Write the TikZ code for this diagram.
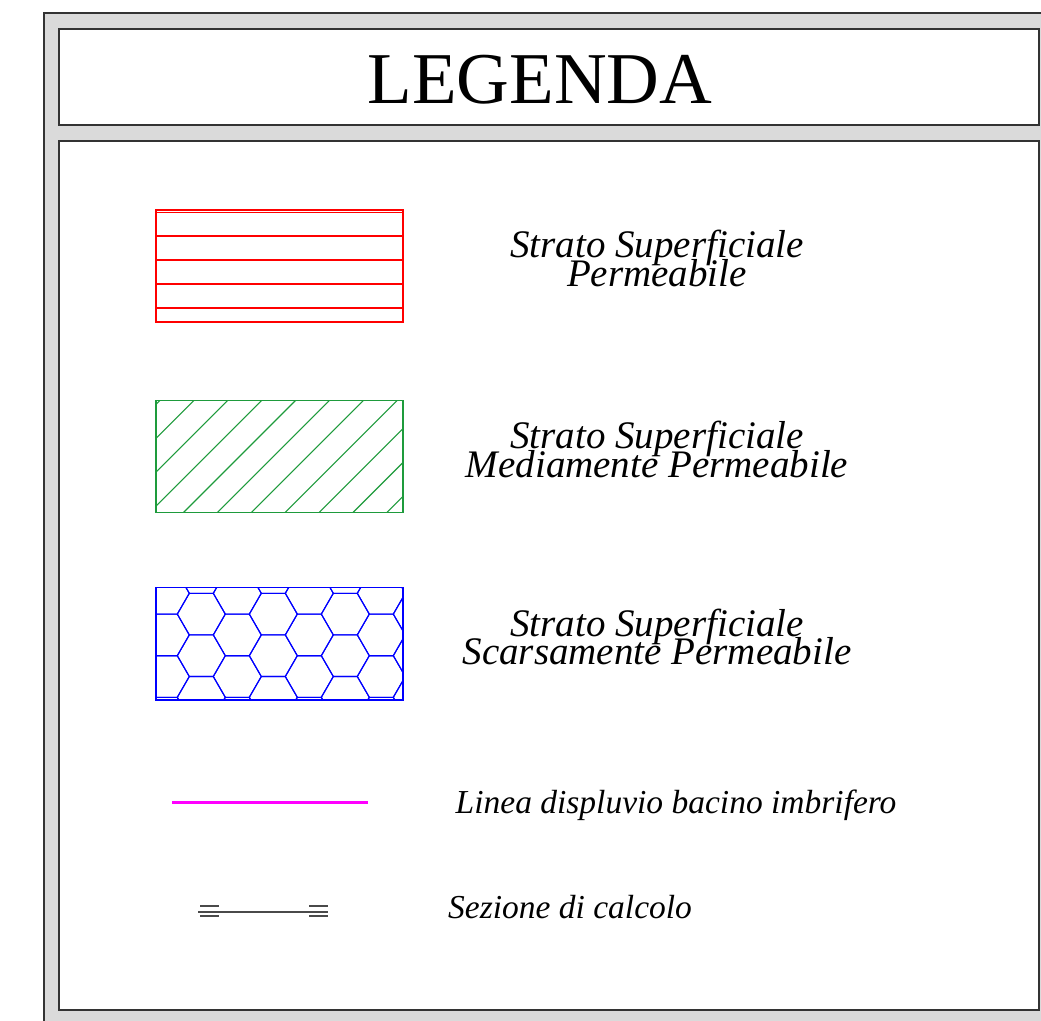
\documentclass[tikz,border=0pt]{standalone}
\usepackage{fontspec}
\setmainfont{Liberation Serif}
\definecolor{framegray}{HTML}{DADADA}
\definecolor{frameline}{HTML}{333333}
\definecolor{hatchgreen}{RGB}{30,155,60}
\definecolor{secgray}{HTML}{4A4A4A}
\definecolor{puremagenta}{RGB}{255,0,255}
\definecolor{purered}{RGB}{255,0,0}
\definecolor{pureblue}{RGB}{0,0,255}
\tikzset{
  frame/.style={draw=frameline,line width=1.4pt},
  patline/.style={line width=1.1pt},
  label2/.style={anchor=base,inner sep=0pt,font=\fontsize{39}{39}\selectfont\itshape},
  label1/.style={anchor=base,inner sep=0pt,font=\fontsize{33.5}{33.5}\selectfont\itshape},
}
\begin{document}
\begin{tikzpicture}[x=1pt,y=-1pt]
\useasboundingbox (0,0) rectangle (1041,1020);
\clip (0,0) rectangle (1041,1020);
% outer frame
\filldraw[frame,fill=framegray] (44,13) rectangle (1070,1050);
\filldraw[frame,fill=white] (59,29) rectangle (1039,125);
\filldraw[frame,fill=white] (59,141) rectangle (1039,1010);
\node[anchor=base,inner sep=0pt,font=\fontsize{73}{73}\selectfont] (title) at (540,103.3) {LEGENDA};

% red horizontal hatch
\begin{scope}[purered,patline]
  \draw (156,210) rectangle (403,322);
  \foreach \yy in {212.3,236,260,284,308} \draw (156,\yy) -- (403,\yy);
\end{scope}
\node[label2] (t1a) at (657,257.3) {Strato Superficiale};
\node[label2] (t1b) at (657,286) {Permeabile};

% green diagonal hatch
\begin{scope}[hatchgreen,patline]
  \begin{scope}
    \clip (156,400.7) rectangle (403,512.7);
    \foreach \k in {-1,...,9} {
      \pgfmathsetmacro{\c}{594.3+33.9*\k}
      \draw (\c-380,380) -- (\c-540,540);
    }
  \end{scope}
  \draw (156,400.7) rectangle (403,512.7);
\end{scope}
\node[label2] (t2a) at (657,448) {Strato Superficiale};
\node[label2] (t2b) at (657,477) {Mediamente Permeabile};

% blue hexagon hatch
\begin{scope}[pureblue,patline]
  \begin{scope}
    \clip (156,587.3) rectangle (403,700);
    \foreach \k in {-1,...,3} {
      \foreach \m in {-1,...,2} {
        \pgfmathsetmacro{\cx}{201.3+72*\k}
        \pgfmathsetmacro{\cy}{614.1+41.6*\m}
        \draw (\cx-24,\cy) -- (\cx-12,\cy-20.8) -- (\cx+12,\cy-20.8) -- (\cx+24,\cy) -- (\cx+12,\cy+20.8) -- (\cx-12,\cy+20.8) -- cycle;
      }
      \foreach \m in {0,...,3} {
        \pgfmathsetmacro{\cx}{237.3+72*\k}
        \pgfmathsetmacro{\cy}{593.3+41.6*\m}
        \draw (\cx-24,\cy) -- (\cx-12,\cy-20.8) -- (\cx+12,\cy-20.8) -- (\cx+24,\cy) -- (\cx+12,\cy+20.8) -- (\cx-12,\cy+20.8) -- cycle;
      }
    }
  \end{scope}
  \draw (156,587.3) rectangle (403,700);
\end{scope}
\node[label2] (t3a) at (657,636) {Strato Superficiale};
\node[label2] (t3b) at (657,664.5) {Scarsamente Permeabile};

% magenta line
\coordinate (m1) at (172,802);
\coordinate (m2) at (368,802);
\draw[puremagenta,line width=3pt] (m1) -- (m2);
\node[label1,anchor=base west] (t4) at (455.5,813) {Linea displuvio bacino imbrifero};

% section symbol
\coordinate (s1) at (198.3,911.7);
\coordinate (s2) at (328.3,911.7);
\draw[secgray,line width=1.7pt] (s1) -- (s2);
\draw[secgray,line width=1.6pt] (200,906) -- (219.3,906) (200,916) -- (219.3,916)
  (309.3,906) -- (328.3,906) (309.3,916) -- (328.3,916);
\node[label1,anchor=base west] (t5) at (448,918) {Sezione di calcolo};
\end{tikzpicture}
\end{document}
